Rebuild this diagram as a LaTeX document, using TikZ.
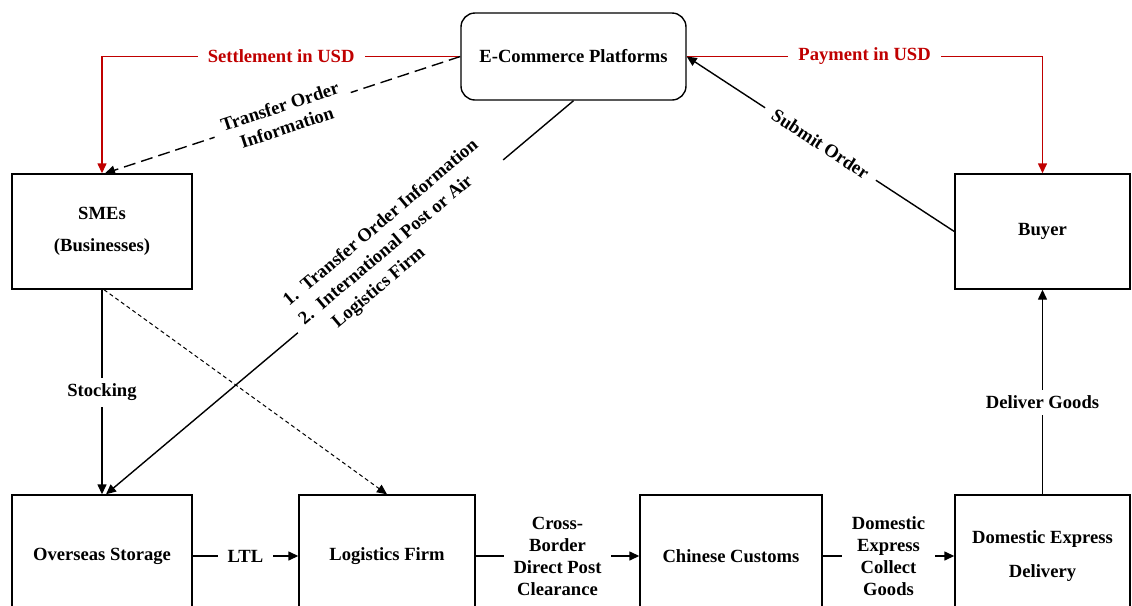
\documentclass[tikz,border=0pt]{standalone}
\usepackage{fontspec}
\setmainfont{Liberation Serif}
\usetikzlibrary{positioning,arrows.meta}
\definecolor{usdred}{RGB}{192,0,0}
\newcommand*{\itm}[1]{#1.\ \ }

\begin{document}
\begin{tikzpicture}[x=0.5pt,y=-0.5pt,
  font=\fontsize{9.3}{11}\selectfont\bfseries,
  box/.style={draw,line width=0.7pt,align=center,inner sep=0pt},
  lbl/.style={fill=white,align=center,inner xsep=5pt,inner ysep=3pt},
  flow/.style={line width=0.7pt,-{Triangle[length=5pt,width=4.5pt]}},
  usd/.style={flow,usdred},
  fine/.style={line width=0.5pt,dash pattern=on 2pt off 1.5pt}]
% Page frame
\clip (0,0) rectangle (1132,606);
% Top and middle boxes
\node[box,rounded corners=7pt,minimum width=112.5pt,minimum height=43.5pt] (ecp) at (573.5,56.5) {E-Commerce Platforms};
\node[box,minimum width=90pt,minimum height=57.5pt] (smes) at (102,231.5) {SMEs\\[5pt](Businesses)};
\node[box,minimum width=87.5pt,minimum height=57.5pt] (buyer) at (1042.5,231.5) {Buyer};
% Bottom row, cut by the page edge
\node[box,minimum width=90pt,minimum height=61pt] (storage) at (102,556) {Overseas Storage};
\node[box,minimum width=88pt,minimum height=61pt] (logistics) at (387,556) {Logistics Firm};
\node[box,minimum width=91pt,minimum height=61pt] (customs) at (731,556) {Chinese Customs};
\node[box,minimum width=87.5pt,minimum height=61pt] (delivery) at (1042.5,556) {Domestic Express\\[6pt]Delivery};
% Money flows in red
\draw[usd] (ecp.west) -| node[lbl,pos=0.25,text=usdred] (settle) {Settlement in USD} (smes.north);
\draw[usd] (ecp.east) -| node[lbl,pos=0.25,text=usdred] (pay) {Payment in USD} (buyer.north);
% Order information
\draw[flow,dash pattern=on 6pt off 3pt] (ecp.west) -- node[lbl,sloped,yshift=-1pt] (tinfo) {Transfer Order\\Information} ([xshift=1.5pt]smes.north);
\draw[flow] (ecp.south) -- node[lbl,sloped,pos=0.37,align=left,yshift=3pt,
  font=\fontsize{9.3}{12}\selectfont\bfseries] (post)
  {\itm{1}Transfer Order Information\\\itm{2}International Post or Air\\\phantom{\itm{2}}Logistics Firm} ([xshift=2pt]storage.north);
\draw[flow] (buyer.west) -- node[lbl,sloped] (submit) {Submit Order} (ecp.east);
% Goods flows
\draw[flow] (smes.south) -- node[lbl] (stock) {Stocking} (storage.north);
\draw[flow,fine] ([xshift=1pt]smes.south) -- (logistics.north);
\draw[flow] (storage.east) -- node[lbl] (ltl) {LTL} (logistics.west);
\draw[flow] (logistics.east) -- node[lbl] (cbdp) {Cross-\\Border\\Direct Post\\Clearance} (customs.west);
\draw[flow] (customs.east) -- node[lbl] (collect) {Domestic\\Express\\Collect\\Goods} (delivery.west);
\draw[flow] (delivery.north) -- node[lbl,pos=0.45] (deliver) {Deliver Goods} (buyer.south);
\end{tikzpicture}
\end{document}
